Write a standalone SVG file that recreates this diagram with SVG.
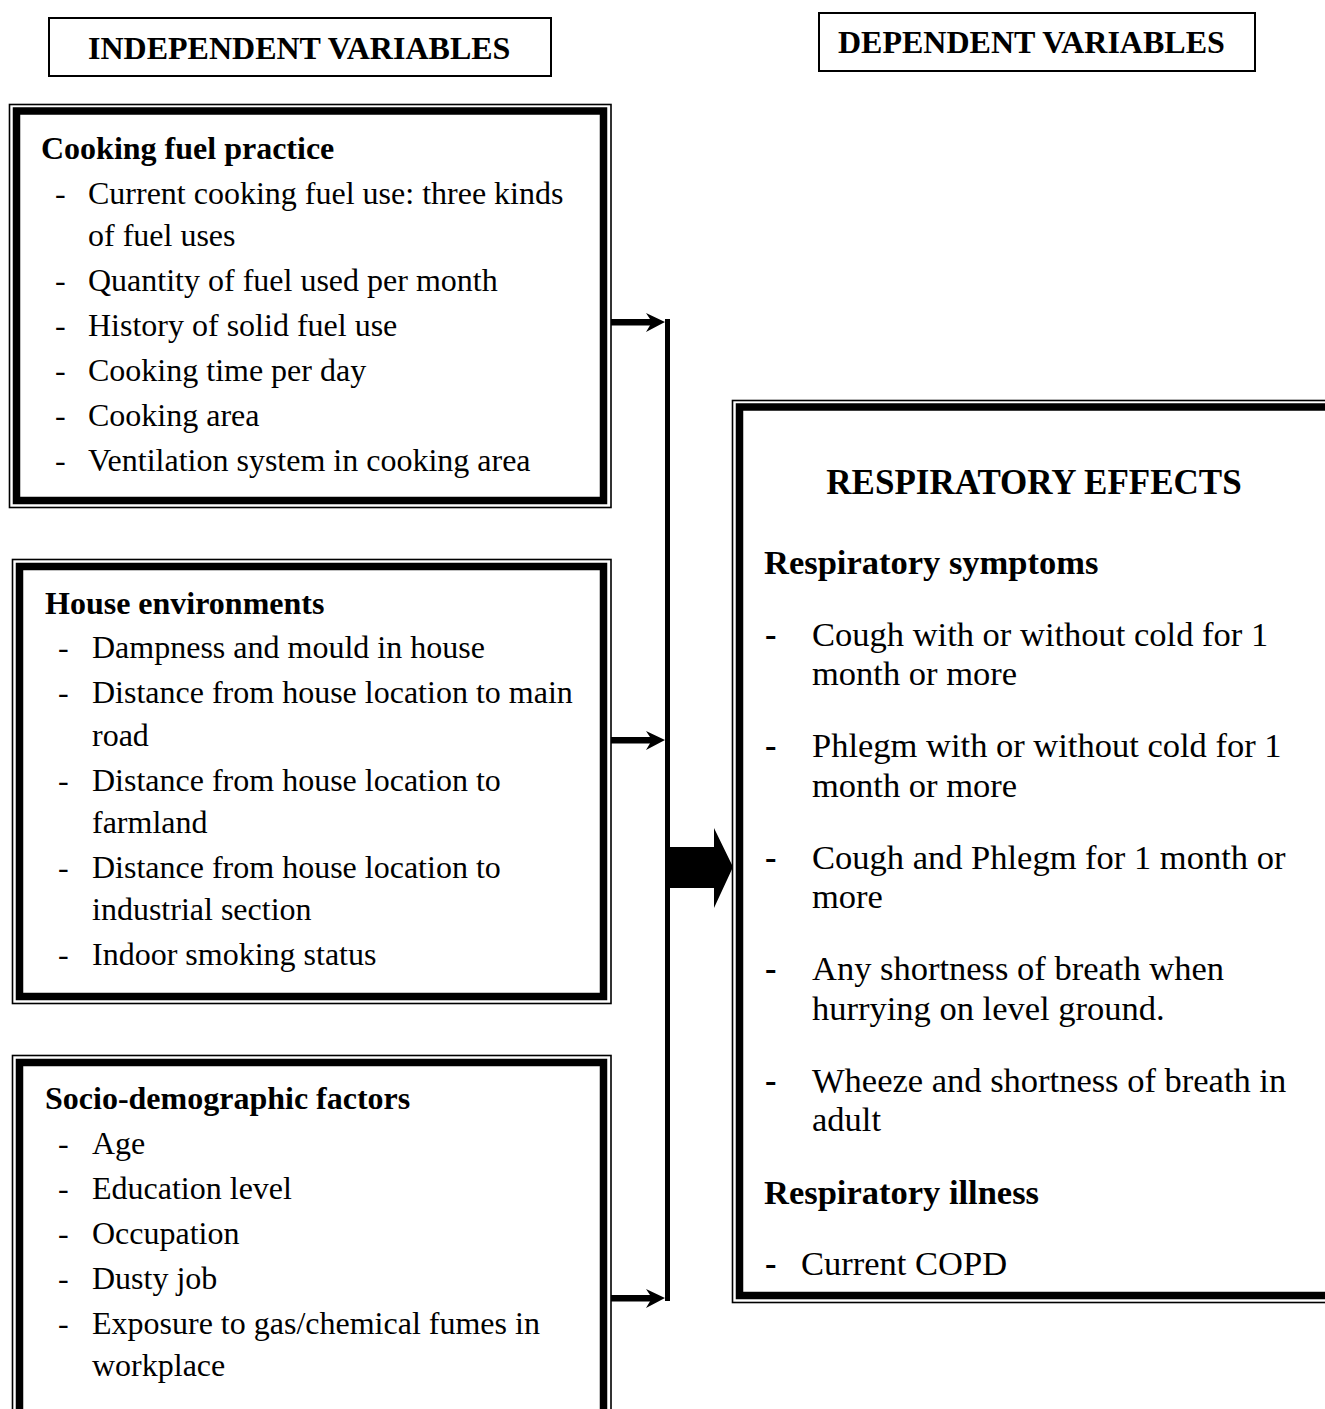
<svg xmlns="http://www.w3.org/2000/svg" width="1325" height="1409" viewBox="0 0 1325 1409">
<style>
text{font-family:"Liberation Serif","Times New Roman",serif;fill:#000}
.h{font-weight:bold;font-size:32px}
.t{font-weight:bold;font-size:32px}
.b{font-size:32px}
.rt{font-weight:bold;font-size:35px}
.rh{font-weight:bold;font-size:34.5px}
.rb{font-size:34.5px}
.thin{fill:none;stroke:#000;stroke-width:1.6}
.thick{fill:none;stroke:#000;stroke-width:7.5}
.hdr{fill:#fff;stroke:#000;stroke-width:2}
</style>
<rect width="1325" height="1409" fill="#fff"/>

<g id="header-independent">
<rect class="hdr" x="49" y="18" width="502" height="58"/>
<text class="h" x="88" y="59">INDEPENDENT VARIABLES</text>
</g>
<g id="header-dependent">
<rect class="hdr" x="819" y="13" width="436" height="58"/>
<text class="h" x="838" y="53">DEPENDENT VARIABLES</text>
</g>

<g id="cooking-fuel-practice">
<rect class="thin" x="9.5" y="104.5" width="601.5" height="403"/>
<rect class="thick" x="16.5" y="111" width="587" height="389.5"/>
<text class="t" x="41" y="159">Cooking fuel practice</text>
<g class="b">
<text x="55" y="204">-</text><text x="88" y="204">Current cooking fuel use: three kinds</text>
<text x="88" y="246">of fuel uses</text>
<text x="55" y="291">-</text><text x="88" y="291">Quantity of fuel used per month</text>
<text x="55" y="336">-</text><text x="88" y="336">History of solid fuel use</text>
<text x="55" y="381">-</text><text x="88" y="381">Cooking time per day</text>
<text x="55" y="426">-</text><text x="88" y="426">Cooking area</text>
<text x="55" y="471">-</text><text x="88" y="471">Ventilation system in cooking area</text>
</g>
</g>

<g id="house-environments">
<rect class="thin" x="12.5" y="559.5" width="598.5" height="444"/>
<rect class="thick" x="19.5" y="566.5" width="584" height="430"/>
<text class="t" x="45" y="614">House environments</text>
<g class="b">
<text x="58" y="658">-</text><text x="92" y="658">Dampness and mould in house</text>
<text x="58" y="703">-</text><text x="92" y="703">Distance from house location to main</text>
<text x="92" y="746">road</text>
<text x="58" y="791">-</text><text x="92" y="791">Distance from house location to</text>
<text x="92" y="833">farmland</text>
<text x="58" y="878">-</text><text x="92" y="878">Distance from house location to</text>
<text x="92" y="920">industrial section</text>
<text x="58" y="965">-</text><text x="92" y="965">Indoor smoking status</text>
</g>
</g>

<g id="socio-demographic-factors">
<rect class="thin" x="12.5" y="1055.5" width="598.5" height="400"/>
<rect class="thick" x="19.5" y="1062.5" width="584" height="400"/>
<text class="t" x="45" y="1109">Socio-demographic factors</text>
<g class="b">
<text x="58" y="1154">-</text><text x="92" y="1154">Age</text>
<text x="58" y="1199">-</text><text x="92" y="1199">Education level</text>
<text x="58" y="1244">-</text><text x="92" y="1244">Occupation</text>
<text x="58" y="1289">-</text><text x="92" y="1289">Dusty job</text>
<text x="58" y="1334">-</text><text x="92" y="1334">Exposure to gas/chemical fumes in</text>
<text x="92" y="1376">workplace</text>
</g>
</g>

<g id="respiratory-effects">
<rect class="thin" x="732.5" y="400.5" width="620" height="902"/>
<rect class="thick" x="739.5" y="407" width="591" height="888.5"/>
<text class="rt" x="1034" y="494" text-anchor="middle">RESPIRATORY EFFECTS</text>
<text class="rh" x="764" y="574">Respiratory symptoms</text>
<g class="rb">
<text x="765" y="646" font-weight="bold">-</text><text x="812" y="646">Cough with or without cold for 1</text>
<text x="812" y="685">month or more</text>
<text x="765" y="757" font-weight="bold">-</text><text x="812" y="757">Phlegm with or without cold for 1</text>
<text x="812" y="797">month or more</text>
<text x="765" y="869" font-weight="bold">-</text><text x="812" y="869">Cough and Phlegm for 1 month or</text>
<text x="812" y="908">more</text>
<text x="765" y="980" font-weight="bold">-</text><text x="812" y="980">Any shortness of breath when</text>
<text x="812" y="1020">hurrying on level ground.</text>
<text x="765" y="1092" font-weight="bold">-</text><text x="812" y="1092">Wheeze and shortness of breath in</text>
<text x="812" y="1131">adult</text>
</g>
<text class="rh" x="764" y="1204">Respiratory illness</text>
<g class="rb">
<text x="765" y="1275" font-weight="bold">-</text><text x="801" y="1275">Current COPD</text>
</g>
</g>

<g id="connectors" fill="#000" stroke="none">
<rect x="665" y="319" width="5" height="982"/>
<rect x="611" y="319" width="42" height="6.5"/>
<polygon points="646,313 665,322 646,332 652,322"/>
<rect x="611" y="737" width="42" height="6.5"/>
<polygon points="646,731 665,740 646,750 652,740"/>
<rect x="611" y="1295" width="42" height="6.5"/>
<polygon points="646,1289 665,1298 646,1308 652,1298"/>
<polygon points="665,847 714,847 714,828 733,867 714,908 714,888 665,888"/>
</g>
</svg>
